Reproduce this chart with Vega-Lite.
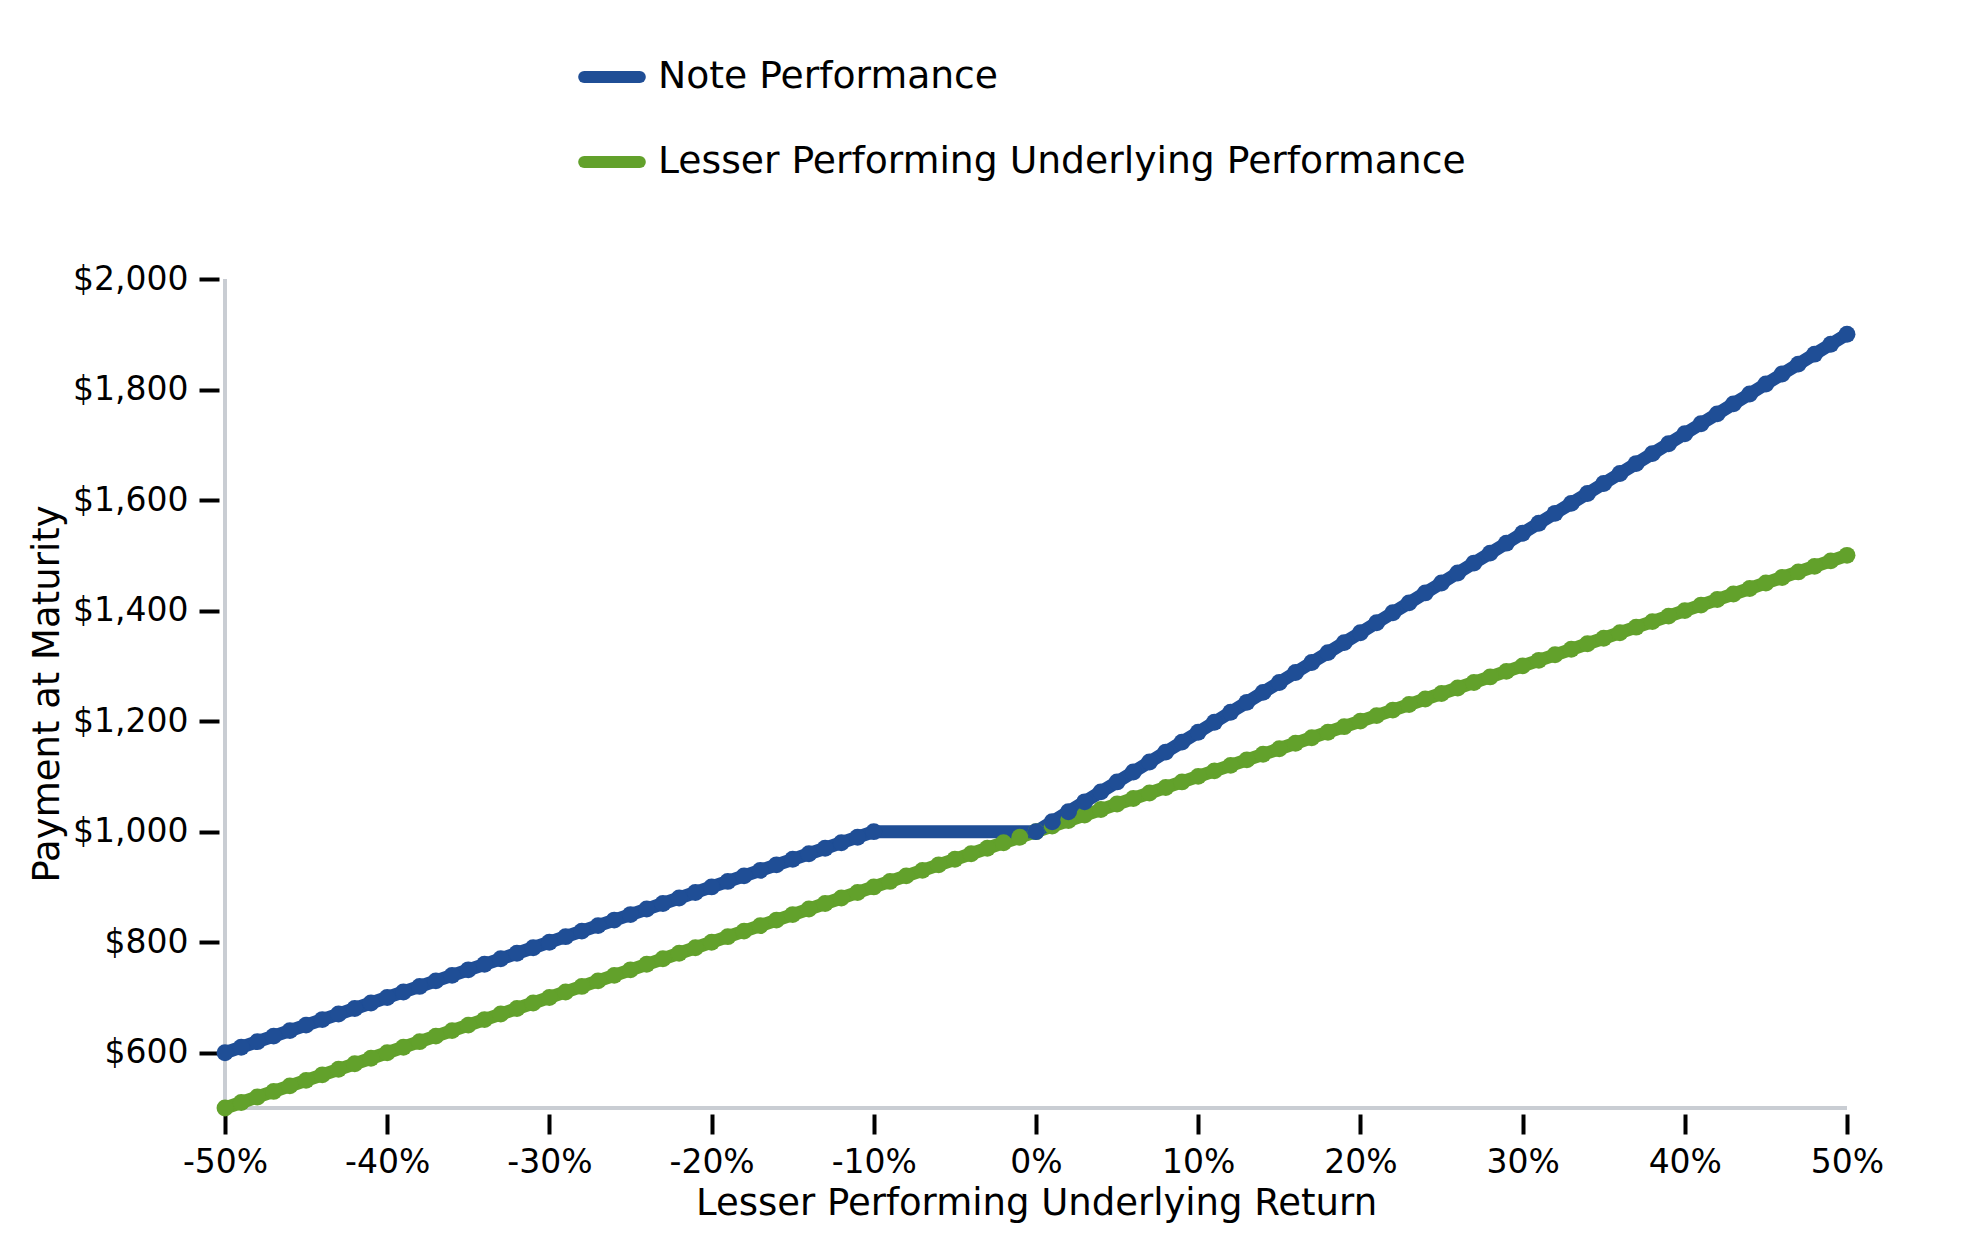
{
  "$schema": "https://vega.github.io/schema/vega-lite/v6.json",
  "width": 1622,
  "height": 829,
  "autosize": {"type": "none"},
  "padding": {"left": 225, "top": 279, "right": 132, "bottom": 142},
  "background": "white",
  "config": {
    "font": "DejaVu Sans",
    "view": {"stroke": null},
    "axis": {
      "grid": false,
      "domain": false,
      "offset": 6,
      "tickColor": "black",
      "tickWidth": 4,
      "tickSize": 20,
      "labelColor": "black",
      "labelFontSize": 33,
      "titleColor": "black",
      "titleFontSize": 37,
      "titleFontWeight": "normal"
    }
  },
  "data": {
    "values": [
      {"ret": -50, "series": "Lesser Performing Underlying Performance", "pay": 500},
      {"ret": -49, "series": "Lesser Performing Underlying Performance", "pay": 510},
      {"ret": -48, "series": "Lesser Performing Underlying Performance", "pay": 520},
      {"ret": -47, "series": "Lesser Performing Underlying Performance", "pay": 530},
      {"ret": -46, "series": "Lesser Performing Underlying Performance", "pay": 540},
      {"ret": -45, "series": "Lesser Performing Underlying Performance", "pay": 550},
      {"ret": -44, "series": "Lesser Performing Underlying Performance", "pay": 560},
      {"ret": -43, "series": "Lesser Performing Underlying Performance", "pay": 570},
      {"ret": -42, "series": "Lesser Performing Underlying Performance", "pay": 580},
      {"ret": -41, "series": "Lesser Performing Underlying Performance", "pay": 590},
      {"ret": -40, "series": "Lesser Performing Underlying Performance", "pay": 600},
      {"ret": -39, "series": "Lesser Performing Underlying Performance", "pay": 610},
      {"ret": -38, "series": "Lesser Performing Underlying Performance", "pay": 620},
      {"ret": -37, "series": "Lesser Performing Underlying Performance", "pay": 630},
      {"ret": -36, "series": "Lesser Performing Underlying Performance", "pay": 640},
      {"ret": -35, "series": "Lesser Performing Underlying Performance", "pay": 650},
      {"ret": -34, "series": "Lesser Performing Underlying Performance", "pay": 660},
      {"ret": -33, "series": "Lesser Performing Underlying Performance", "pay": 670},
      {"ret": -32, "series": "Lesser Performing Underlying Performance", "pay": 680},
      {"ret": -31, "series": "Lesser Performing Underlying Performance", "pay": 690},
      {"ret": -30, "series": "Lesser Performing Underlying Performance", "pay": 700},
      {"ret": -29, "series": "Lesser Performing Underlying Performance", "pay": 710},
      {"ret": -28, "series": "Lesser Performing Underlying Performance", "pay": 720},
      {"ret": -27, "series": "Lesser Performing Underlying Performance", "pay": 730},
      {"ret": -26, "series": "Lesser Performing Underlying Performance", "pay": 740},
      {"ret": -25, "series": "Lesser Performing Underlying Performance", "pay": 750},
      {"ret": -24, "series": "Lesser Performing Underlying Performance", "pay": 760},
      {"ret": -23, "series": "Lesser Performing Underlying Performance", "pay": 770},
      {"ret": -22, "series": "Lesser Performing Underlying Performance", "pay": 780},
      {"ret": -21, "series": "Lesser Performing Underlying Performance", "pay": 790},
      {"ret": -20, "series": "Lesser Performing Underlying Performance", "pay": 800},
      {"ret": -19, "series": "Lesser Performing Underlying Performance", "pay": 810},
      {"ret": -18, "series": "Lesser Performing Underlying Performance", "pay": 820},
      {"ret": -17, "series": "Lesser Performing Underlying Performance", "pay": 830},
      {"ret": -16, "series": "Lesser Performing Underlying Performance", "pay": 840},
      {"ret": -15, "series": "Lesser Performing Underlying Performance", "pay": 850},
      {"ret": -14, "series": "Lesser Performing Underlying Performance", "pay": 860},
      {"ret": -13, "series": "Lesser Performing Underlying Performance", "pay": 870},
      {"ret": -12, "series": "Lesser Performing Underlying Performance", "pay": 880},
      {"ret": -11, "series": "Lesser Performing Underlying Performance", "pay": 890},
      {"ret": -10, "series": "Lesser Performing Underlying Performance", "pay": 900},
      {"ret": -9, "series": "Lesser Performing Underlying Performance", "pay": 910},
      {"ret": -8, "series": "Lesser Performing Underlying Performance", "pay": 920},
      {"ret": -7, "series": "Lesser Performing Underlying Performance", "pay": 930},
      {"ret": -6, "series": "Lesser Performing Underlying Performance", "pay": 940},
      {"ret": -5, "series": "Lesser Performing Underlying Performance", "pay": 950},
      {"ret": -4, "series": "Lesser Performing Underlying Performance", "pay": 960},
      {"ret": -3, "series": "Lesser Performing Underlying Performance", "pay": 970},
      {"ret": -2, "series": "Lesser Performing Underlying Performance", "pay": 980},
      {"ret": -1, "series": "Lesser Performing Underlying Performance", "pay": 990},
      {"ret": 0, "series": "Lesser Performing Underlying Performance", "pay": 1000},
      {"ret": 1, "series": "Lesser Performing Underlying Performance", "pay": 1010},
      {"ret": 2, "series": "Lesser Performing Underlying Performance", "pay": 1020},
      {"ret": 3, "series": "Lesser Performing Underlying Performance", "pay": 1030},
      {"ret": 4, "series": "Lesser Performing Underlying Performance", "pay": 1040},
      {"ret": 5, "series": "Lesser Performing Underlying Performance", "pay": 1050},
      {"ret": 6, "series": "Lesser Performing Underlying Performance", "pay": 1060},
      {"ret": 7, "series": "Lesser Performing Underlying Performance", "pay": 1070},
      {"ret": 8, "series": "Lesser Performing Underlying Performance", "pay": 1080},
      {"ret": 9, "series": "Lesser Performing Underlying Performance", "pay": 1090},
      {"ret": 10, "series": "Lesser Performing Underlying Performance", "pay": 1100},
      {"ret": 11, "series": "Lesser Performing Underlying Performance", "pay": 1110},
      {"ret": 12, "series": "Lesser Performing Underlying Performance", "pay": 1120},
      {"ret": 13, "series": "Lesser Performing Underlying Performance", "pay": 1130},
      {"ret": 14, "series": "Lesser Performing Underlying Performance", "pay": 1140},
      {"ret": 15, "series": "Lesser Performing Underlying Performance", "pay": 1150},
      {"ret": 16, "series": "Lesser Performing Underlying Performance", "pay": 1160},
      {"ret": 17, "series": "Lesser Performing Underlying Performance", "pay": 1170},
      {"ret": 18, "series": "Lesser Performing Underlying Performance", "pay": 1180},
      {"ret": 19, "series": "Lesser Performing Underlying Performance", "pay": 1190},
      {"ret": 20, "series": "Lesser Performing Underlying Performance", "pay": 1200},
      {"ret": 21, "series": "Lesser Performing Underlying Performance", "pay": 1210},
      {"ret": 22, "series": "Lesser Performing Underlying Performance", "pay": 1220},
      {"ret": 23, "series": "Lesser Performing Underlying Performance", "pay": 1230},
      {"ret": 24, "series": "Lesser Performing Underlying Performance", "pay": 1240},
      {"ret": 25, "series": "Lesser Performing Underlying Performance", "pay": 1250},
      {"ret": 26, "series": "Lesser Performing Underlying Performance", "pay": 1260},
      {"ret": 27, "series": "Lesser Performing Underlying Performance", "pay": 1270},
      {"ret": 28, "series": "Lesser Performing Underlying Performance", "pay": 1280},
      {"ret": 29, "series": "Lesser Performing Underlying Performance", "pay": 1290},
      {"ret": 30, "series": "Lesser Performing Underlying Performance", "pay": 1300},
      {"ret": 31, "series": "Lesser Performing Underlying Performance", "pay": 1310},
      {"ret": 32, "series": "Lesser Performing Underlying Performance", "pay": 1320},
      {"ret": 33, "series": "Lesser Performing Underlying Performance", "pay": 1330},
      {"ret": 34, "series": "Lesser Performing Underlying Performance", "pay": 1340},
      {"ret": 35, "series": "Lesser Performing Underlying Performance", "pay": 1350},
      {"ret": 36, "series": "Lesser Performing Underlying Performance", "pay": 1360},
      {"ret": 37, "series": "Lesser Performing Underlying Performance", "pay": 1370},
      {"ret": 38, "series": "Lesser Performing Underlying Performance", "pay": 1380},
      {"ret": 39, "series": "Lesser Performing Underlying Performance", "pay": 1390},
      {"ret": 40, "series": "Lesser Performing Underlying Performance", "pay": 1400},
      {"ret": 41, "series": "Lesser Performing Underlying Performance", "pay": 1410},
      {"ret": 42, "series": "Lesser Performing Underlying Performance", "pay": 1420},
      {"ret": 43, "series": "Lesser Performing Underlying Performance", "pay": 1430},
      {"ret": 44, "series": "Lesser Performing Underlying Performance", "pay": 1440},
      {"ret": 45, "series": "Lesser Performing Underlying Performance", "pay": 1450},
      {"ret": 46, "series": "Lesser Performing Underlying Performance", "pay": 1460},
      {"ret": 47, "series": "Lesser Performing Underlying Performance", "pay": 1470},
      {"ret": 48, "series": "Lesser Performing Underlying Performance", "pay": 1480},
      {"ret": 49, "series": "Lesser Performing Underlying Performance", "pay": 1490},
      {"ret": 50, "series": "Lesser Performing Underlying Performance", "pay": 1500},
      {"ret": -50, "series": "Note Performance", "pay": 600},
      {"ret": -49, "series": "Note Performance", "pay": 610},
      {"ret": -48, "series": "Note Performance", "pay": 620},
      {"ret": -47, "series": "Note Performance", "pay": 630},
      {"ret": -46, "series": "Note Performance", "pay": 640},
      {"ret": -45, "series": "Note Performance", "pay": 650},
      {"ret": -44, "series": "Note Performance", "pay": 660},
      {"ret": -43, "series": "Note Performance", "pay": 670},
      {"ret": -42, "series": "Note Performance", "pay": 680},
      {"ret": -41, "series": "Note Performance", "pay": 690},
      {"ret": -40, "series": "Note Performance", "pay": 700},
      {"ret": -39, "series": "Note Performance", "pay": 710},
      {"ret": -38, "series": "Note Performance", "pay": 720},
      {"ret": -37, "series": "Note Performance", "pay": 730},
      {"ret": -36, "series": "Note Performance", "pay": 740},
      {"ret": -35, "series": "Note Performance", "pay": 750},
      {"ret": -34, "series": "Note Performance", "pay": 760},
      {"ret": -33, "series": "Note Performance", "pay": 770},
      {"ret": -32, "series": "Note Performance", "pay": 780},
      {"ret": -31, "series": "Note Performance", "pay": 790},
      {"ret": -30, "series": "Note Performance", "pay": 800},
      {"ret": -29, "series": "Note Performance", "pay": 810},
      {"ret": -28, "series": "Note Performance", "pay": 820},
      {"ret": -27, "series": "Note Performance", "pay": 830},
      {"ret": -26, "series": "Note Performance", "pay": 840},
      {"ret": -25, "series": "Note Performance", "pay": 850},
      {"ret": -24, "series": "Note Performance", "pay": 860},
      {"ret": -23, "series": "Note Performance", "pay": 870},
      {"ret": -22, "series": "Note Performance", "pay": 880},
      {"ret": -21, "series": "Note Performance", "pay": 890},
      {"ret": -20, "series": "Note Performance", "pay": 900},
      {"ret": -19, "series": "Note Performance", "pay": 910},
      {"ret": -18, "series": "Note Performance", "pay": 920},
      {"ret": -17, "series": "Note Performance", "pay": 930},
      {"ret": -16, "series": "Note Performance", "pay": 940},
      {"ret": -15, "series": "Note Performance", "pay": 950},
      {"ret": -14, "series": "Note Performance", "pay": 960},
      {"ret": -13, "series": "Note Performance", "pay": 970},
      {"ret": -12, "series": "Note Performance", "pay": 980},
      {"ret": -11, "series": "Note Performance", "pay": 990},
      {"ret": -10, "series": "Note Performance", "pay": 1000},
      {"ret": 0, "series": "Note Performance", "pay": 1000},
      {"ret": 1, "series": "Note Performance", "pay": 1018},
      {"ret": 2, "series": "Note Performance", "pay": 1036},
      {"ret": 3, "series": "Note Performance", "pay": 1054},
      {"ret": 4, "series": "Note Performance", "pay": 1072},
      {"ret": 5, "series": "Note Performance", "pay": 1090},
      {"ret": 6, "series": "Note Performance", "pay": 1108},
      {"ret": 7, "series": "Note Performance", "pay": 1126},
      {"ret": 8, "series": "Note Performance", "pay": 1144},
      {"ret": 9, "series": "Note Performance", "pay": 1162},
      {"ret": 10, "series": "Note Performance", "pay": 1180},
      {"ret": 11, "series": "Note Performance", "pay": 1198},
      {"ret": 12, "series": "Note Performance", "pay": 1216},
      {"ret": 13, "series": "Note Performance", "pay": 1234},
      {"ret": 14, "series": "Note Performance", "pay": 1252},
      {"ret": 15, "series": "Note Performance", "pay": 1270},
      {"ret": 16, "series": "Note Performance", "pay": 1288},
      {"ret": 17, "series": "Note Performance", "pay": 1306},
      {"ret": 18, "series": "Note Performance", "pay": 1324},
      {"ret": 19, "series": "Note Performance", "pay": 1342},
      {"ret": 20, "series": "Note Performance", "pay": 1360},
      {"ret": 21, "series": "Note Performance", "pay": 1378},
      {"ret": 22, "series": "Note Performance", "pay": 1396},
      {"ret": 23, "series": "Note Performance", "pay": 1414},
      {"ret": 24, "series": "Note Performance", "pay": 1432},
      {"ret": 25, "series": "Note Performance", "pay": 1450},
      {"ret": 26, "series": "Note Performance", "pay": 1468},
      {"ret": 27, "series": "Note Performance", "pay": 1486},
      {"ret": 28, "series": "Note Performance", "pay": 1504},
      {"ret": 29, "series": "Note Performance", "pay": 1522},
      {"ret": 30, "series": "Note Performance", "pay": 1540},
      {"ret": 31, "series": "Note Performance", "pay": 1558},
      {"ret": 32, "series": "Note Performance", "pay": 1576},
      {"ret": 33, "series": "Note Performance", "pay": 1594},
      {"ret": 34, "series": "Note Performance", "pay": 1612},
      {"ret": 35, "series": "Note Performance", "pay": 1630},
      {"ret": 36, "series": "Note Performance", "pay": 1648},
      {"ret": 37, "series": "Note Performance", "pay": 1666},
      {"ret": 38, "series": "Note Performance", "pay": 1684},
      {"ret": 39, "series": "Note Performance", "pay": 1702},
      {"ret": 40, "series": "Note Performance", "pay": 1720},
      {"ret": 41, "series": "Note Performance", "pay": 1738},
      {"ret": 42, "series": "Note Performance", "pay": 1756},
      {"ret": 43, "series": "Note Performance", "pay": 1774},
      {"ret": 44, "series": "Note Performance", "pay": 1792},
      {"ret": 45, "series": "Note Performance", "pay": 1810},
      {"ret": 46, "series": "Note Performance", "pay": 1828},
      {"ret": 47, "series": "Note Performance", "pay": 1846},
      {"ret": 48, "series": "Note Performance", "pay": 1864},
      {"ret": 49, "series": "Note Performance", "pay": 1882},
      {"ret": 50, "series": "Note Performance", "pay": 1900}
    ]
  },
  "encoding": {
    "x": {
      "field": "ret",
      "type": "quantitative",
      "scale": {"domain": [-50, 50], "nice": false},
      "axis": {
        "values": [-50, -40, -30, -20, -10, 0, 10, 20, 30, 40, 50],
        "labelExpr": "datum.value + '%'",
        "labelPadding": 12,
        "labelFlush": false,
        "title": "Lesser Performing Underlying Return",
        "titlePadding": 6
      }
    },
    "y": {
      "field": "pay",
      "type": "quantitative",
      "scale": {"domain": [500, 2000], "nice": false, "zero": false},
      "axis": {
        "values": [600, 800, 1000, 1200, 1400, 1600, 1800, 2000],
        "format": "$,.0f",
        "labelPadding": 11,
        "labelFlush": false,
        "title": "Payment at Maturity",
        "titlePadding": 6
      }
    },
    "color": {
      "field": "series",
      "type": "nominal",
      "scale": {
        "domain": ["Note Performance", "Lesser Performing Underlying Performance"],
        "range": ["#1f4e96", "#62a12b"]
      },
      "legend": {
        "orient": "none",
        "legendX": 353,
        "legendY": -236,
        "title": null,
        "symbolType": "stroke",
        "symbolSize": 3100,
        "symbolStrokeWidth": 12,
        "labelFontSize": 37.7,
        "labelColor": "black",
        "labelLimit": 1200,
        "labelOffset": 12,
        "rowPadding": 27,
        "encode": {"symbols": {"update": {"strokeCap": {"value": "round"}}}}
      }
    }
  },
  "layer": [
    {
      "mark": {"type": "rule", "color": "#c9cdd3", "strokeWidth": 4},
      "encoding": {"x": null, "color": null, "y": {"datum": 500, "type": "quantitative"}}
    },
    {
      "mark": {"type": "rule", "color": "#c9cdd3", "strokeWidth": 4},
      "encoding": {"y": null, "color": null, "x": {"datum": -50, "type": "quantitative"}}
    },
    {
      "mark": {"type": "line", "strokeWidth": 13, "strokeCap": "round", "strokeJoin": "round"}
    },
    {
      "mark": {"type": "circle", "size": 285, "opacity": 1}
    }
  ]
}
